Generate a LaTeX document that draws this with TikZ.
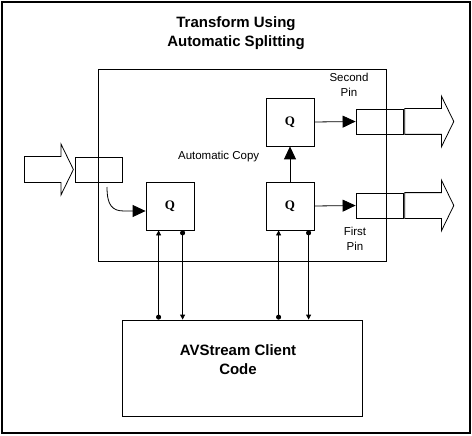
\documentclass[tikz,border=0pt]{standalone}
\usepackage{fontspec}
\setmainfont{Liberation Sans}
\newfontfamily\qfont{Liberation Serif}
\usetikzlibrary{arrows.meta,positioning,calc,shapes.arrows}

\begin{document}
\begin{tikzpicture}[
  x=1pt,y=-1pt,
  line width=0.8pt,
  qbox/.style={draw,minimum width=48pt,minimum height=48pt,inner sep=0pt,font=\qfont\bfseries\fontsize{13}{14}\selectfont},
  pinbox/.style={draw,minimum width=47pt,minimum height=25pt,inner sep=0pt},
  bigarrow/.style={draw,single arrow,single arrow head extend=12.5pt,single arrow tip angle=128,text height=12.5pt,text depth=12.5pt,minimum height=49pt,inner sep=0pt,anchor=tail},
  heading/.style={align=center,font=\bfseries\fontsize{15}{19}\selectfont},
  note/.style={align=center,font=\fontsize{11.5}{15}\selectfont},
  flow/.style={-{Triangle[length=13pt,width=12pt]}},
  ctl/.style={{Circle[length=5pt]}-{Triangle[length=5pt,width=5pt]}},
]
  \useasboundingbox (0,0) rectangle (472,436);
  \draw[line width=1.6pt] (2,2) rectangle (470,433);

  \node[heading] (title) at (236,33) {Transform Using\\Automatic Splitting};

  % filter and client
  \node[draw,minimum width=288pt,minimum height=192pt] (xform) at (242,165) {};
  \node[draw,minimum width=240pt,minimum height=96pt] (client) at (242,368) {};
  \node[heading] (clienttxt) at ($(client.center)+(-4,-8)$) {AVStream Client\\Code};

  % queues
  \node[qbox] (q1) at (170,206) {Q};
  \node[qbox] (q2) at (290,206) {Q};
  \node[qbox] (q3) at (290,122) {Q};

  % pins
  \node[pinbox] (inpin) at (98.5,169.5) {};
  \node[pinbox] (pin2) at (379.5,121.5) {};
  \node[pinbox] (pin1) at (379.5,205.5) {};
  \node[bigarrow] (inarrow) at (24,169.5) {};
  \node[bigarrow] (out2) at ($(pin2.east)+(1,0)$) {};
  \node[bigarrow] (out1) at ($(pin1.east)+(1,0)$) {};

  \draw[flow] (q3.east) -- (pin2.west);
  \draw[flow] (q2.east) -- (pin1.west);
  \draw[flow] (q2.north) -- (q3.south);

  \coordinate (cstart) at (107,187);
  \coordinate (qin) at ($(q1.west)+(0,5)$);
  \draw[flow] (cstart) .. controls +(0,18) and +(-12,0) .. (124,211) -- (qin);

  \node[note,anchor=east] (copylbl) at (263,157) {Automatic Copy};
  \node[note] (pin2lbl) at (349,85) {Second\\Pin};
  \node[note] (pin1lbl) at (355,239) {First\\Pin};

  % control lines
  \coordinate (q1l) at ($(q1.south west)+(13,0)$);
  \coordinate (q1r) at ($(q1.south west)+(37,0)$);
  \coordinate (q2l) at ($(q2.south west)+(13,0)$);
  \coordinate (q2r) at ($(q2.south west)+(43,0)$);
  \draw[ctl] (q1l |- client.north) -- (q1l);
  \draw[ctl] (q1r) -- (q1r |- client.north);
  \draw[ctl] (q2l |- client.north) -- (q2l);
  \draw[ctl] (q2r) -- (q2r |- client.north);
\end{tikzpicture}
\end{document}
